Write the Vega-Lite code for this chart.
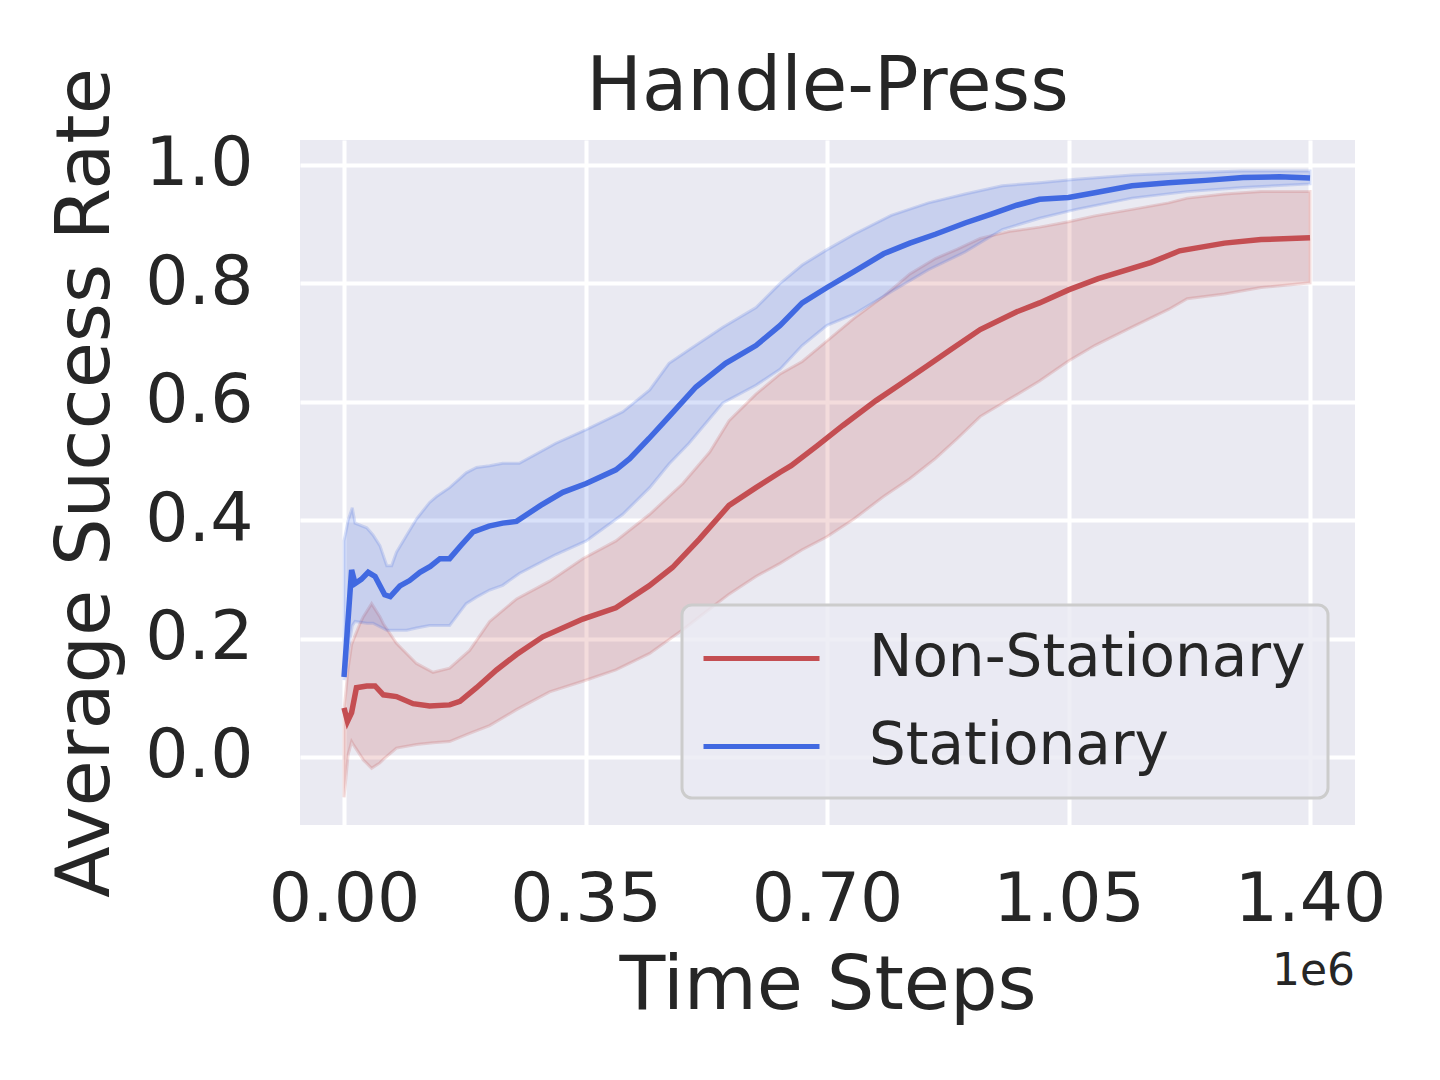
{
  "$schema": "https://vega.github.io/schema/vega-lite/v6.json",
  "width": 1055,
  "height": 685,
  "autosize": {"type": "none"},
  "padding": {"left": 300, "top": 140, "right": 85, "bottom": 255},
  "background": "white",
  "config": {
    "font": "DejaVu Sans",
    "view": {"fill": "#EAEAF2", "stroke": null},
    "axis": {
      "domain": false, "ticks": false, "grid": true, "gridColor": "white", "gridWidth": 4,
      "labelFont": "DejaVu Sans", "labelFontSize": 68, "labelColor": "#262626",
      "titleFont": "DejaVu Sans", "titleFontSize": 75, "titleColor": "#262626", "titleFontWeight": "normal"
    },
    "legend": {
      "orient": "bottom-right", "offset": 27, "padding": 22,
      "labelFont": "DejaVu Sans", "labelFontSize": 58, "labelColor": "#262626", "labelLimit": 800,
      "symbolType": "M-2,0L2,0", "symbolSize": 3364, "symbolStrokeWidth": 5, "symbolOffset": 26,
      "labelOffset": 76, "rowPadding": 27,
      "strokeColor": "#cccccc", "strokeWidth": 3, "fillColor": "rgba(234,234,242,0.8)", "cornerRadius": 10
    }
  },
  "title": {"text": "Handle-Press", "fontSize": 74, "fontWeight": "normal", "color": "#262626", "font": "DejaVu Sans", "offset": -58, "anchor": "middle"},
  "resolve": {"legend": {"color": "independent", "stroke": "independent"}},
  "datasets": {
    "mean": [
      {"series": "Stationary", "step": 0.000, "rate": 0.135},
      {"series": "Stationary", "step": 0.011, "rate": 0.316},
      {"series": "Stationary", "step": 0.016, "rate": 0.293},
      {"series": "Stationary", "step": 0.025, "rate": 0.300},
      {"series": "Stationary", "step": 0.035, "rate": 0.312},
      {"series": "Stationary", "step": 0.045, "rate": 0.305},
      {"series": "Stationary", "step": 0.059, "rate": 0.274},
      {"series": "Stationary", "step": 0.067, "rate": 0.271},
      {"series": "Stationary", "step": 0.081, "rate": 0.289},
      {"series": "Stationary", "step": 0.095, "rate": 0.298},
      {"series": "Stationary", "step": 0.110, "rate": 0.312},
      {"series": "Stationary", "step": 0.125, "rate": 0.322},
      {"series": "Stationary", "step": 0.139, "rate": 0.335},
      {"series": "Stationary", "step": 0.153, "rate": 0.335},
      {"series": "Stationary", "step": 0.170, "rate": 0.358},
      {"series": "Stationary", "step": 0.187, "rate": 0.380},
      {"series": "Stationary", "step": 0.210, "rate": 0.390},
      {"series": "Stationary", "step": 0.230, "rate": 0.395},
      {"series": "Stationary", "step": 0.250, "rate": 0.398},
      {"series": "Stationary", "step": 0.285, "rate": 0.425},
      {"series": "Stationary", "step": 0.317, "rate": 0.447},
      {"series": "Stationary", "step": 0.351, "rate": 0.462},
      {"series": "Stationary", "step": 0.394, "rate": 0.485},
      {"series": "Stationary", "step": 0.414, "rate": 0.504},
      {"series": "Stationary", "step": 0.442, "rate": 0.538},
      {"series": "Stationary", "step": 0.471, "rate": 0.575},
      {"series": "Stationary", "step": 0.510, "rate": 0.625},
      {"series": "Stationary", "step": 0.553, "rate": 0.665},
      {"series": "Stationary", "step": 0.597, "rate": 0.695},
      {"series": "Stationary", "step": 0.632, "rate": 0.729},
      {"series": "Stationary", "step": 0.664, "rate": 0.767},
      {"series": "Stationary", "step": 0.700, "rate": 0.793},
      {"series": "Stationary", "step": 0.739, "rate": 0.820},
      {"series": "Stationary", "step": 0.782, "rate": 0.850},
      {"series": "Stationary", "step": 0.820, "rate": 0.868},
      {"series": "Stationary", "step": 0.857, "rate": 0.883},
      {"series": "Stationary", "step": 0.900, "rate": 0.902},
      {"series": "Stationary", "step": 0.938, "rate": 0.917},
      {"series": "Stationary", "step": 0.975, "rate": 0.932},
      {"series": "Stationary", "step": 1.008, "rate": 0.942},
      {"series": "Stationary", "step": 1.050, "rate": 0.945},
      {"series": "Stationary", "step": 1.088, "rate": 0.953},
      {"series": "Stationary", "step": 1.142, "rate": 0.965},
      {"series": "Stationary", "step": 1.195, "rate": 0.970},
      {"series": "Stationary", "step": 1.249, "rate": 0.974},
      {"series": "Stationary", "step": 1.303, "rate": 0.979},
      {"series": "Stationary", "step": 1.356, "rate": 0.980},
      {"series": "Stationary", "step": 1.400, "rate": 0.978},
      {"series": "Non-Stationary", "step": 0.000, "rate": 0.083},
      {"series": "Non-Stationary", "step": 0.005, "rate": 0.060},
      {"series": "Non-Stationary", "step": 0.011, "rate": 0.075},
      {"series": "Non-Stationary", "step": 0.018, "rate": 0.117},
      {"series": "Non-Stationary", "step": 0.033, "rate": 0.120},
      {"series": "Non-Stationary", "step": 0.045, "rate": 0.120},
      {"series": "Non-Stationary", "step": 0.057, "rate": 0.105},
      {"series": "Non-Stationary", "step": 0.076, "rate": 0.102},
      {"series": "Non-Stationary", "step": 0.100, "rate": 0.090},
      {"series": "Non-Stationary", "step": 0.124, "rate": 0.086},
      {"series": "Non-Stationary", "step": 0.153, "rate": 0.088},
      {"series": "Non-Stationary", "step": 0.168, "rate": 0.094},
      {"series": "Non-Stationary", "step": 0.192, "rate": 0.117},
      {"series": "Non-Stationary", "step": 0.221, "rate": 0.147},
      {"series": "Non-Stationary", "step": 0.250, "rate": 0.173},
      {"series": "Non-Stationary", "step": 0.288, "rate": 0.203},
      {"series": "Non-Stationary", "step": 0.346, "rate": 0.233},
      {"series": "Non-Stationary", "step": 0.394, "rate": 0.252},
      {"series": "Non-Stationary", "step": 0.442, "rate": 0.289},
      {"series": "Non-Stationary", "step": 0.476, "rate": 0.320},
      {"series": "Non-Stationary", "step": 0.515, "rate": 0.368},
      {"series": "Non-Stationary", "step": 0.558, "rate": 0.425},
      {"series": "Non-Stationary", "step": 0.597, "rate": 0.455},
      {"series": "Non-Stationary", "step": 0.632, "rate": 0.481},
      {"series": "Non-Stationary", "step": 0.648, "rate": 0.492},
      {"series": "Non-Stationary", "step": 0.686, "rate": 0.526},
      {"series": "Non-Stationary", "step": 0.723, "rate": 0.560},
      {"series": "Non-Stationary", "step": 0.771, "rate": 0.602},
      {"series": "Non-Stationary", "step": 0.804, "rate": 0.628},
      {"series": "Non-Stationary", "step": 0.847, "rate": 0.662},
      {"series": "Non-Stationary", "step": 0.879, "rate": 0.688},
      {"series": "Non-Stationary", "step": 0.922, "rate": 0.722},
      {"series": "Non-Stationary", "step": 0.975, "rate": 0.752},
      {"series": "Non-Stationary", "step": 1.008, "rate": 0.767},
      {"series": "Non-Stationary", "step": 1.050, "rate": 0.789},
      {"series": "Non-Stationary", "step": 1.093, "rate": 0.808},
      {"series": "Non-Stationary", "step": 1.169, "rate": 0.835},
      {"series": "Non-Stationary", "step": 1.211, "rate": 0.855},
      {"series": "Non-Stationary", "step": 1.276, "rate": 0.868},
      {"series": "Non-Stationary", "step": 1.329, "rate": 0.874},
      {"series": "Non-Stationary", "step": 1.400, "rate": 0.877}
    ],
    "band": [
      {"series": "Non-Stationary", "step": 0.000, "lo": -0.068, "hi": 0.079},
      {"series": "Non-Stationary", "step": 0.006, "lo": 0.004, "hi": 0.150},
      {"series": "Non-Stationary", "step": 0.011, "lo": 0.026, "hi": 0.190},
      {"series": "Non-Stationary", "step": 0.014, "lo": 0.020, "hi": 0.199},
      {"series": "Non-Stationary", "step": 0.023, "lo": 0.004, "hi": 0.225},
      {"series": "Non-Stationary", "step": 0.028, "lo": -0.005, "hi": 0.237},
      {"series": "Non-Stationary", "step": 0.040, "lo": -0.019, "hi": 0.259},
      {"series": "Non-Stationary", "step": 0.052, "lo": -0.010, "hi": 0.237},
      {"series": "Non-Stationary", "step": 0.057, "lo": -0.004, "hi": 0.225},
      {"series": "Non-Stationary", "step": 0.076, "lo": 0.015, "hi": 0.192},
      {"series": "Non-Stationary", "step": 0.105, "lo": 0.021, "hi": 0.158},
      {"series": "Non-Stationary", "step": 0.129, "lo": 0.024, "hi": 0.143},
      {"series": "Non-Stationary", "step": 0.153, "lo": 0.026, "hi": 0.150},
      {"series": "Non-Stationary", "step": 0.182, "lo": 0.040, "hi": 0.180},
      {"series": "Non-Stationary", "step": 0.211, "lo": 0.053, "hi": 0.229},
      {"series": "Non-Stationary", "step": 0.250, "lo": 0.080, "hi": 0.267},
      {"series": "Non-Stationary", "step": 0.298, "lo": 0.110, "hi": 0.297},
      {"series": "Non-Stationary", "step": 0.346, "lo": 0.128, "hi": 0.335},
      {"series": "Non-Stationary", "step": 0.394, "lo": 0.147, "hi": 0.365},
      {"series": "Non-Stationary", "step": 0.443, "lo": 0.175, "hi": 0.410},
      {"series": "Non-Stationary", "step": 0.491, "lo": 0.215, "hi": 0.462},
      {"series": "Non-Stationary", "step": 0.530, "lo": 0.250, "hi": 0.515},
      {"series": "Non-Stationary", "step": 0.558, "lo": 0.275, "hi": 0.568},
      {"series": "Non-Stationary", "step": 0.597, "lo": 0.305, "hi": 0.613},
      {"series": "Non-Stationary", "step": 0.632, "lo": 0.327, "hi": 0.647},
      {"series": "Non-Stationary", "step": 0.664, "lo": 0.350, "hi": 0.668},
      {"series": "Non-Stationary", "step": 0.700, "lo": 0.372, "hi": 0.703},
      {"series": "Non-Stationary", "step": 0.739, "lo": 0.402, "hi": 0.741},
      {"series": "Non-Stationary", "step": 0.782, "lo": 0.440, "hi": 0.778},
      {"series": "Non-Stationary", "step": 0.820, "lo": 0.470, "hi": 0.816},
      {"series": "Non-Stationary", "step": 0.857, "lo": 0.504, "hi": 0.842},
      {"series": "Non-Stationary", "step": 0.889, "lo": 0.538, "hi": 0.858},
      {"series": "Non-Stationary", "step": 0.922, "lo": 0.575, "hi": 0.876},
      {"series": "Non-Stationary", "step": 0.965, "lo": 0.605, "hi": 0.888},
      {"series": "Non-Stationary", "step": 1.008, "lo": 0.635, "hi": 0.895},
      {"series": "Non-Stationary", "step": 1.050, "lo": 0.669, "hi": 0.904},
      {"series": "Non-Stationary", "step": 1.088, "lo": 0.695, "hi": 0.914},
      {"series": "Non-Stationary", "step": 1.142, "lo": 0.726, "hi": 0.925},
      {"series": "Non-Stationary", "step": 1.195, "lo": 0.756, "hi": 0.936},
      {"series": "Non-Stationary", "step": 1.222, "lo": 0.774, "hi": 0.944},
      {"series": "Non-Stationary", "step": 1.276, "lo": 0.782, "hi": 0.951},
      {"series": "Non-Stationary", "step": 1.329, "lo": 0.793, "hi": 0.955},
      {"series": "Non-Stationary", "step": 1.400, "lo": 0.801, "hi": 0.955},
      {"series": "Stationary", "step": 0.000, "lo": 0.130, "hi": 0.365},
      {"series": "Stationary", "step": 0.006, "lo": 0.180, "hi": 0.400},
      {"series": "Stationary", "step": 0.012, "lo": 0.222, "hi": 0.421},
      {"series": "Stationary", "step": 0.016, "lo": 0.229, "hi": 0.395},
      {"series": "Stationary", "step": 0.033, "lo": 0.226, "hi": 0.387},
      {"series": "Stationary", "step": 0.042, "lo": 0.226, "hi": 0.375},
      {"series": "Stationary", "step": 0.052, "lo": 0.220, "hi": 0.357},
      {"series": "Stationary", "step": 0.062, "lo": 0.214, "hi": 0.323},
      {"series": "Stationary", "step": 0.069, "lo": 0.214, "hi": 0.323},
      {"series": "Stationary", "step": 0.076, "lo": 0.214, "hi": 0.346},
      {"series": "Stationary", "step": 0.091, "lo": 0.214, "hi": 0.375},
      {"series": "Stationary", "step": 0.105, "lo": 0.218, "hi": 0.402},
      {"series": "Stationary", "step": 0.124, "lo": 0.222, "hi": 0.430},
      {"series": "Stationary", "step": 0.134, "lo": 0.222, "hi": 0.440},
      {"series": "Stationary", "step": 0.153, "lo": 0.222, "hi": 0.455},
      {"series": "Stationary", "step": 0.177, "lo": 0.259, "hi": 0.480},
      {"series": "Stationary", "step": 0.192, "lo": 0.270, "hi": 0.489},
      {"series": "Stationary", "step": 0.211, "lo": 0.282, "hi": 0.492},
      {"series": "Stationary", "step": 0.230, "lo": 0.290, "hi": 0.496},
      {"series": "Stationary", "step": 0.254, "lo": 0.310, "hi": 0.496},
      {"series": "Stationary", "step": 0.307, "lo": 0.342, "hi": 0.530},
      {"series": "Stationary", "step": 0.351, "lo": 0.365, "hi": 0.553},
      {"series": "Stationary", "step": 0.404, "lo": 0.410, "hi": 0.583},
      {"series": "Stationary", "step": 0.443, "lo": 0.455, "hi": 0.620},
      {"series": "Stationary", "step": 0.471, "lo": 0.495, "hi": 0.665},
      {"series": "Stationary", "step": 0.500, "lo": 0.530, "hi": 0.688},
      {"series": "Stationary", "step": 0.549, "lo": 0.598, "hi": 0.726},
      {"series": "Stationary", "step": 0.597, "lo": 0.628, "hi": 0.759},
      {"series": "Stationary", "step": 0.632, "lo": 0.655, "hi": 0.800},
      {"series": "Stationary", "step": 0.664, "lo": 0.695, "hi": 0.831},
      {"series": "Stationary", "step": 0.700, "lo": 0.729, "hi": 0.857},
      {"series": "Stationary", "step": 0.739, "lo": 0.748, "hi": 0.883},
      {"series": "Stationary", "step": 0.793, "lo": 0.786, "hi": 0.915},
      {"series": "Stationary", "step": 0.847, "lo": 0.823, "hi": 0.936},
      {"series": "Stationary", "step": 0.900, "lo": 0.853, "hi": 0.951},
      {"series": "Stationary", "step": 0.954, "lo": 0.891, "hi": 0.965},
      {"series": "Stationary", "step": 1.008, "lo": 0.910, "hi": 0.970},
      {"series": "Stationary", "step": 1.061, "lo": 0.925, "hi": 0.976},
      {"series": "Stationary", "step": 1.142, "lo": 0.944, "hi": 0.983},
      {"series": "Stationary", "step": 1.222, "lo": 0.955, "hi": 0.987},
      {"series": "Stationary", "step": 1.303, "lo": 0.962, "hi": 0.990},
      {"series": "Stationary", "step": 1.400, "lo": 0.968, "hi": 0.990}
    ],
    "note": [{"label": "1e6"}]
  },
  "layer": [
    {
      "data": {"name": "band"},
      "mark": {"type": "area", "fillOpacity": 0.2, "strokeWidth": 3, "strokeOpacity": 0.2, "clip": true},
      "encoding": {
        "x": {"field": "step", "type": "quantitative",
              "scale": {"domain": [-0.0638, 1.4652], "nice": false, "zero": false},
              "axis": {"title": "Time Steps", "values": [0, 0.35, 0.7, 1.05, 1.4], "format": ".2f", "labelPadding": 41, "titlePadding": 15}},
        "y": {"field": "lo", "type": "quantitative",
              "scale": {"domain": [-0.1149, 1.0422], "nice": false, "zero": false},
              "axis": {"title": "Average Success Rate", "values": [0, 0.2, 0.4, 0.6, 0.8, 1.0], "format": ".1f", "labelPadding": 47, "titlePadding": 20}},
        "y2": {"field": "hi"},
        "color": {"field": "series", "type": "nominal", "legend": null,
                  "scale": {"domain": ["Non-Stationary", "Stationary"], "range": ["#C44E52", "#4169E1"]}},
        "stroke": {"field": "series", "type": "nominal", "legend": null,
                   "scale": {"domain": ["Non-Stationary", "Stationary"], "range": ["#C44E52", "#4169E1"]}}
      }
    },
    {
      "data": {"name": "mean"},
      "mark": {"type": "line", "strokeWidth": 5.5, "clip": true},
      "encoding": {
        "x": {"field": "step", "type": "quantitative"},
        "y": {"field": "rate", "type": "quantitative"},
        "color": {"field": "series", "type": "nominal",
                  "scale": {"domain": ["Non-Stationary", "Stationary"], "range": ["#C44E52", "#4169E1"]},
                  "legend": {"title": null}}
      }
    },
    {
      "data": {"name": "note"},
      "mark": {"type": "text", "align": "right", "baseline": "alphabetic", "fontSize": 44, "color": "#262626", "font": "DejaVu Sans"},
      "encoding": {
        "x": {"datum": 1.4652, "type": "quantitative"},
        "y": {"datum": -0.385, "type": "quantitative"},
        "text": {"field": "label"}
      }
    }
  ]
}
